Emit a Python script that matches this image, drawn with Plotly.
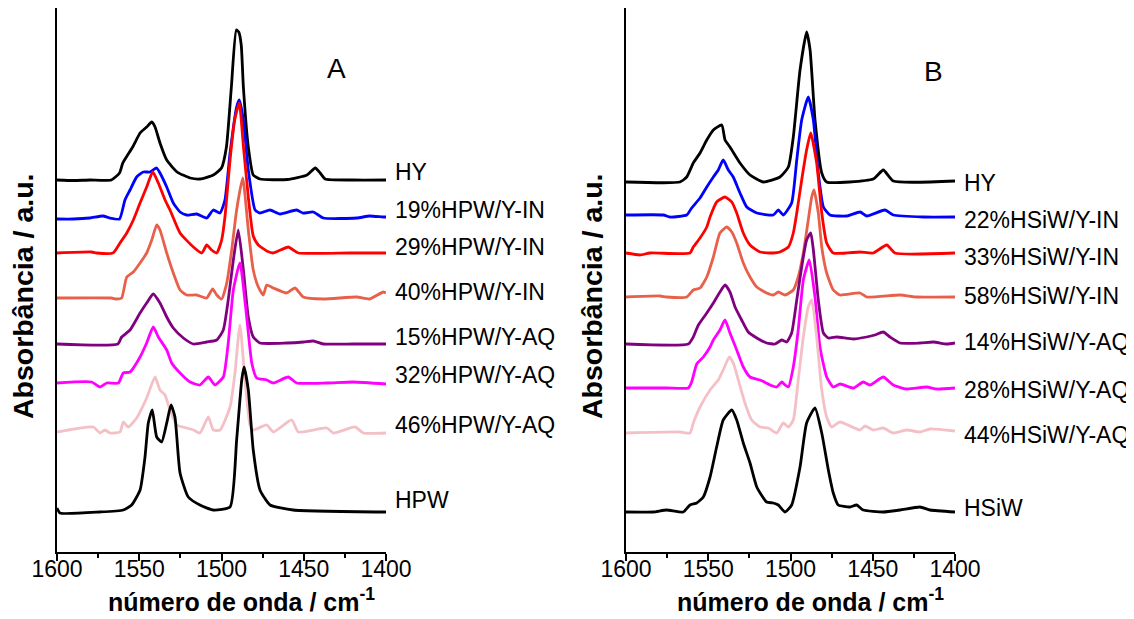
import plotly.graph_objects as go

# ---------------- Panel A (HPW series) ----------------
wn_hy_a = [1600, 1590, 1580, 1567, 1562, 1560, 1554, 1549.5, 1545.5, 1542.4, 1540.4, 1537.4, 1533.3, 1527, 1519, 1513, 1505, 1500, 1497, 1494, 1491, 1489.5, 1488, 1486.7, 1483.7, 1480.7, 1476.6, 1460, 1448, 1443, 1440, 1437, 1420, 1400]
ab_hy_a = [3.72, 3.715, 3.72, 3.72, 3.79, 3.89, 4.05, 4.19, 4.25, 4.30, 4.25, 4.09, 3.92, 3.80, 3.74, 3.73, 3.77, 3.84, 4.05, 4.65, 5.22, 5.20, 5.07, 4.65, 4.05, 3.77, 3.73, 3.725, 3.77, 3.84, 3.79, 3.73, 3.72, 3.72]

wn_19 = [1600, 1590, 1580, 1572, 1568, 1562, 1558.7, 1555.6, 1551.6, 1547.5, 1543.5, 1539.4, 1537.4, 1533.3, 1529.3, 1525.2, 1521.2, 1515.1, 1509, 1505, 1500.9, 1497.9, 1494.8, 1490.8, 1489.2, 1486.7, 1483.7, 1479.6, 1476.6, 1470.5, 1464.4, 1454.3, 1450.5, 1444.2, 1438.1, 1417.8, 1410, 1401.8, 1400]
ab_19 = [3.33, 3.33, 3.34, 3.36, 3.34, 3.33, 3.52, 3.62, 3.75, 3.80, 3.80, 3.84, 3.79, 3.65, 3.49, 3.40, 3.37, 3.38, 3.34, 3.42, 3.39, 3.52, 3.99, 4.45, 4.52, 4.32, 3.82, 3.42, 3.39, 3.42, 3.38, 3.42, 3.39, 3.40, 3.34, 3.34, 3.36, 3.35, 3.35]

wn_29 = [1600, 1578.9, 1575.9, 1566, 1561.7, 1557.6, 1553.6, 1549.5, 1545.5, 1541.8, 1538.4, 1534.3, 1531.3, 1525.2, 1517.1, 1512, 1509, 1506, 1502.9, 1499.9, 1497.9, 1494.8, 1492, 1489.2, 1486.7, 1483.7, 1480.7, 1477.6, 1472.5, 1468.5, 1459.4, 1456.4, 1453.3, 1421.9, 1400]
ab_29 = [2.99, 3.00, 2.99, 2.99, 3.09, 3.19, 3.32, 3.49, 3.65, 3.80, 3.69, 3.52, 3.42, 3.19, 3.05, 2.99, 3.07, 3.02, 2.99, 3.12, 3.35, 3.92, 4.32, 4.49, 4.06, 3.55, 3.16, 3.07, 3.01, 2.99, 3.05, 3.02, 2.99, 2.99, 2.99]

wn_40 = [1600, 1567, 1563.7, 1560.7, 1557.6, 1553.6, 1549.5, 1545.5, 1542.4, 1539.4, 1537.4, 1533.3, 1529.3, 1525.2, 1521.2, 1515.1, 1509, 1505.4, 1502.9, 1499.9, 1496.8, 1493.8, 1490.8, 1487.1, 1483.7, 1480.7, 1477.6, 1474.6, 1472.5, 1468.5, 1460.4, 1455.3, 1450.3, 1438.1, 1417.8, 1410, 1401.6, 1400]
ab_40 = [2.54, 2.54, 2.53, 2.54, 2.75, 2.80, 2.89, 2.99, 3.12, 3.27, 3.22, 2.99, 2.79, 2.62, 2.57, 2.57, 2.54, 2.63, 2.57, 2.53, 2.69, 3.02, 3.42, 3.74, 3.22, 2.82, 2.65, 2.57, 2.67, 2.64, 2.59, 2.64, 2.55, 2.53, 2.55, 2.53, 2.60, 2.59]

wn_15 = [1600, 1563, 1560.7, 1555.6, 1549.5, 1545.5, 1541.5, 1537.4, 1533.3, 1529.3, 1523.2, 1517.1, 1509, 1502.9, 1498.9, 1495.9, 1492.8, 1489.8, 1486.7, 1483.7, 1480.7, 1476.6, 1460.4, 1450, 1444.2, 1438.1, 1420, 1400]
ab_15 = [2.08, 2.08, 2.15, 2.22, 2.39, 2.49, 2.58, 2.49, 2.35, 2.24, 2.14, 2.08, 2.10, 2.12, 2.22, 2.52, 2.92, 3.22, 2.82, 2.35, 2.15, 2.09, 2.09, 2.10, 2.11, 2.08, 2.08, 2.08]

wn_32 = [1600, 1578.9, 1573.9, 1569.8, 1562.7, 1559.7, 1555.6, 1549.5, 1545.5, 1541.5, 1538.4, 1533.3, 1530.3, 1525.2, 1519.1, 1513.1, 1508, 1504, 1498.9, 1495.9, 1492.8, 1488.8, 1484.7, 1481.6, 1478.6, 1472.5, 1468.5, 1459.4, 1454.3, 1436, 1419.9, 1400]
ab_32 = [1.69, 1.70, 1.65, 1.69, 1.69, 1.79, 1.80, 1.95, 2.09, 2.25, 2.15, 2.02, 1.89, 1.79, 1.70, 1.67, 1.75, 1.67, 1.75, 2.09, 2.62, 2.89, 2.35, 1.89, 1.74, 1.72, 1.69, 1.75, 1.69, 1.69, 1.70, 1.68]

wn_46 = [1600, 1577.9, 1573.9, 1570.8, 1567.8, 1561.7, 1559.7, 1556.7, 1551.6, 1545.5, 1540.4, 1537.4, 1534.3, 1532.3, 1527.2, 1521.2, 1517.1, 1513.1, 1508, 1505, 1500.9, 1494.8, 1491.8, 1488.8, 1485.7, 1482.7, 1480.7, 1472.5, 1468.5, 1457.3, 1453.3, 1436, 1432, 1418.8, 1413.8, 1400]
ab_46 = [1.20, 1.25, 1.19, 1.22, 1.19, 1.20, 1.30, 1.25, 1.34, 1.54, 1.75, 1.62, 1.57, 1.47, 1.27, 1.24, 1.22, 1.19, 1.35, 1.22, 1.22, 1.45, 1.79, 2.27, 1.72, 1.27, 1.22, 1.27, 1.20, 1.32, 1.20, 1.24, 1.19, 1.25, 1.19, 1.19]

wn_hpw = [1600, 1598.2, 1573.9, 1559.7, 1554.6, 1549.5, 1546.5, 1544.5, 1542.1, 1539.4, 1536.4, 1533.3, 1530.7, 1528.3, 1525.2, 1520.2, 1513.1, 1505, 1494.8, 1490.8, 1487.7, 1486.3, 1483.7, 1480.7, 1476.6, 1470.5, 1456.4, 1400]
ab_hpw = [0.44, 0.39, 0.40, 0.42, 0.47, 0.62, 0.95, 1.29, 1.42, 1.15, 1.10, 1.29, 1.47, 1.35, 0.79, 0.55, 0.47, 0.42, 0.45, 1.12, 1.72, 1.85, 1.62, 1.02, 0.62, 0.47, 0.42, 0.40]

# ---------------- Panel B (HSiW series) ----------------
wn_hy_b = [1600, 1567.2, 1563.1, 1559.1, 1555, 1550.9, 1546.9, 1541.8, 1539.8, 1536.8, 1530.7, 1524.6, 1516.5, 1506.4, 1501.3, 1498.3, 1494.2, 1490.2, 1488.1, 1485.1, 1481, 1478, 1449.7, 1443.6, 1437.5, 1400]
ab_hy_b = [3.70, 3.70, 3.75, 3.89, 3.99, 4.12, 4.22, 4.27, 4.12, 4.05, 3.89, 3.77, 3.70, 3.75, 3.85, 4.15, 4.82, 5.20, 5.02, 4.32, 3.79, 3.70, 3.73, 3.82, 3.71, 3.71]

wn_22 = [1600, 1577.3, 1573.3, 1563.1, 1560.1, 1555, 1550.9, 1546.9, 1543.9, 1540.9, 1537.8, 1534.8, 1530.7, 1526.6, 1520.5, 1510.5, 1507.4, 1504.4, 1499.3, 1496.2, 1493.2, 1489.2, 1486.1, 1483.1, 1480, 1476, 1465.8, 1457.7, 1453.7, 1442.6, 1437.5, 1419.3, 1400]
ab_22 = [3.37, 3.37, 3.35, 3.37, 3.44, 3.54, 3.65, 3.75, 3.82, 3.92, 3.82, 3.75, 3.59, 3.45, 3.39, 3.37, 3.42, 3.37, 3.49, 3.92, 4.32, 4.55, 4.32, 3.79, 3.45, 3.37, 3.36, 3.40, 3.36, 3.42, 3.37, 3.35, 3.35]

wn_33 = [1600, 1591.5, 1585.4, 1561.1, 1559.1, 1555, 1550.9, 1548.9, 1544.9, 1539.8, 1535.7, 1532.7, 1528.7, 1524.6, 1518.5, 1510.5, 1506.4, 1501.3, 1498.3, 1496.2, 1493.2, 1490.2, 1487.7, 1484.1, 1481, 1478, 1474, 1457.7, 1449.7, 1441.5, 1436.5, 1400]
ab_33 = [2.99, 2.97, 2.99, 2.99, 3.05, 3.14, 3.25, 3.35, 3.50, 3.55, 3.50, 3.39, 3.19, 3.07, 3.00, 2.99, 3.00, 3.05, 3.19, 3.39, 3.72, 4.02, 4.19, 3.89, 3.39, 3.09, 2.99, 3.00, 2.99, 3.07, 2.99, 2.99]

wn_58 = [1600, 1579.3, 1575.3, 1563.1, 1559.1, 1555, 1550.9, 1546.9, 1542.9, 1538.8, 1535.7, 1532.7, 1528.7, 1524.6, 1520.5, 1514.5, 1510.5, 1507.4, 1503.3, 1498.3, 1495.3, 1492.2, 1489.2, 1487.1, 1485.7, 1483.1, 1481, 1478, 1474, 1469.9, 1457.7, 1453.7, 1433.4, 1423.3, 1400]
ab_58 = [2.55, 2.56, 2.55, 2.55, 2.62, 2.64, 2.75, 2.95, 3.19, 3.25, 3.20, 3.09, 2.89, 2.75, 2.65, 2.59, 2.57, 2.60, 2.57, 2.62, 2.75, 2.99, 3.32, 3.55, 3.62, 3.39, 3.05, 2.79, 2.62, 2.57, 2.59, 2.55, 2.57, 2.55, 2.55]

wn_14 = [1600, 1562.1, 1559.1, 1556, 1550.9, 1546.9, 1542.9, 1539.8, 1536.8, 1533.7, 1529.7, 1525.7, 1520.5, 1514.5, 1509.4, 1505.3, 1502.3, 1499.3, 1496.2, 1493.2, 1490.2, 1487.7, 1486.1, 1483.1, 1480, 1477, 1471.9, 1461.8, 1453.7, 1448.7, 1443.6, 1439.5, 1433.4, 1421.3, 1413.2, 1405, 1400]
ab_14 = [2.08, 2.08, 2.15, 2.27, 2.39, 2.49, 2.60, 2.67, 2.60, 2.45, 2.32, 2.20, 2.14, 2.09, 2.08, 2.12, 2.10, 2.19, 2.52, 2.85, 3.12, 3.19, 3.02, 2.52, 2.19, 2.14, 2.15, 2.13, 2.15, 2.17, 2.20, 2.15, 2.09, 2.09, 2.10, 2.08, 2.09]

wn_28 = [1600, 1575.3, 1562.1, 1560.1, 1557, 1553, 1548.9, 1546.9, 1542.9, 1539.8, 1536.8, 1532.7, 1528.7, 1524.6, 1518.5, 1512.5, 1508.4, 1505.3, 1503.3, 1501.3, 1498.3, 1495.3, 1492.2, 1488.6, 1485.1, 1482.1, 1478, 1474, 1469.9, 1461.8, 1455.8, 1451.7, 1443.6, 1437.5, 1429.4, 1417.2, 1411.1, 1400]
ab_28 = [1.64, 1.64, 1.64, 1.70, 1.88, 1.95, 2.05, 2.12, 2.22, 2.32, 2.19, 2.02, 1.85, 1.75, 1.72, 1.67, 1.65, 1.70, 1.67, 1.65, 1.85, 2.22, 2.72, 2.92, 2.55, 2.05, 1.75, 1.65, 1.68, 1.64, 1.70, 1.67, 1.75, 1.67, 1.63, 1.65, 1.63, 1.64]

wn_44 = [1600, 1567.2, 1561.1, 1559.1, 1555, 1548.9, 1543.9, 1540.9, 1537.2, 1534.8, 1531.7, 1527.7, 1523.6, 1518.5, 1513.5, 1508.4, 1504.4, 1501.3, 1498.3, 1495.3, 1492.2, 1489.2, 1487.1, 1484.1, 1481, 1478, 1475, 1469.9, 1457.7, 1454.7, 1449.7, 1443.6, 1437.5, 1429.4, 1421.3, 1415.2, 1400]
ab_44 = [1.19, 1.20, 1.19, 1.29, 1.45, 1.62, 1.72, 1.82, 1.95, 1.89, 1.72, 1.49, 1.32, 1.25, 1.24, 1.19, 1.29, 1.25, 1.32, 1.72, 2.15, 2.45, 2.52, 2.15, 1.62, 1.35, 1.25, 1.30, 1.22, 1.26, 1.22, 1.24, 1.19, 1.22, 1.20, 1.23, 1.21]

wn_hsiw = [1600, 1583.4, 1575.3, 1565.2, 1561.1, 1557, 1553, 1548.9, 1544.9, 1540.9, 1535.7, 1532.7, 1528.7, 1524.6, 1520.5, 1514.5, 1510.5, 1507.4, 1503.3, 1499.3, 1494.2, 1490.2, 1485.1, 1481, 1477, 1474, 1471, 1463.8, 1459.8, 1455.8, 1443.6, 1433.4, 1421.3, 1415.2, 1400]
ab_hsiw = [0.40, 0.40, 0.42, 0.40, 0.47, 0.49, 0.55, 0.75, 1.05, 1.32, 1.42, 1.32, 1.09, 0.89, 0.65, 0.50, 0.49, 0.47, 0.40, 0.47, 0.85, 1.29, 1.44, 1.19, 0.82, 0.59, 0.47, 0.45, 0.47, 0.42, 0.40, 0.42, 0.45, 0.42, 0.40]

labels_a = ["HY", "19%HPW/Y-IN", "29%HPW/Y-IN", "40%HPW/Y-IN", "15%HPW/Y-AQ", "32%HPW/Y-AQ", "46%HPW/Y-AQ", "HPW"]
labels_b = ["HY", "22%HSiW/Y-IN", "33%HSiW/Y-IN", "58%HSiW/Y-IN", "14%HSiW/Y-AQ", "28%HSiW/Y-AQ", "44%HSiW/Y-AQ", "HSiW"]
label_y_a = [3.80, 3.42, 3.05, 2.60, 2.15, 1.77, 1.27, 0.52]
label_y_b = [3.69, 3.32, 2.95, 2.56, 2.10, 1.62, 1.17, 0.44]
colors = ["#000000", "#0000FF", "#FF0000", "#E8604A", "#800080", "#FF00FF", "#F4C0C6", "#000000"]

series_a = [(wn_hy_a, ab_hy_a), (wn_19, ab_19), (wn_29, ab_29), (wn_40, ab_40),
            (wn_15, ab_15), (wn_32, ab_32), (wn_46, ab_46), (wn_hpw, ab_hpw)]
series_b = [(wn_hy_b, ab_hy_b), (wn_22, ab_22), (wn_33, ab_33), (wn_58, ab_58),
            (wn_14, ab_14), (wn_28, ab_28), (wn_44, ab_44), (wn_hsiw, ab_hsiw)]

# The page body has an 8 px margin, so the figure is drawn 8 px smaller and
# every page position below is shifted by OFF.
OFF = 8
W, H = 1134 - OFF, 619 - OFF
PB = 552 - OFF          # figure row of the x-axis line
YTOP = 5.44             # absorbance value at the top of the plotting area
FONT = "Liberation Sans, Arial, sans-serif"

def px(xp):             # page x -> paper x
    return (xp - OFF) / W

def py(yp):             # page y -> paper y
    return (PB - (yp - OFF)) / PB

fig = go.Figure()
for (x, y), c in zip(series_a, colors):
    fig.add_trace(go.Scatter(x=x, y=y, mode="lines",
                             line=dict(color=c, width=2.8, shape="spline", smoothing=0.5),
                             xaxis="x", yaxis="y", showlegend=False, hoverinfo="skip"))
for (x, y), c in zip(series_b, colors):
    fig.add_trace(go.Scatter(x=x, y=y, mode="lines",
                             line=dict(color=c, width=2.8, shape="spline", smoothing=0.5),
                             xaxis="x2", yaxis="y2", showlegend=False, hoverinfo="skip"))

def xax(dom, anchor):
    return dict(domain=dom, anchor=anchor, range=[1600, 1400], autorange=False,
                automargin=False,
                tickmode="array", tickvals=[1600, 1550, 1500, 1450, 1400],
                ticks="outside", ticklen=7, tickwidth=1.5, tickcolor="black",
                ticklabelstandoff=-11,
                minor=dict(tickmode="array", tickvals=[1575, 1525, 1475, 1425],
                           ticks="outside", ticklen=4, tickwidth=1.5, tickcolor="black",
                           showgrid=False),
                showline=True, linecolor="black", linewidth=1.5,
                showgrid=False, zeroline=False,
                tickfont=dict(family=FONT, size=23, color="black"))

def yax(anchor):
    return dict(domain=[0, 1], anchor=anchor, range=[0, YTOP], autorange=False,
                automargin=False,
                showline=True, linecolor="black", linewidth=1.5,
                showticklabels=False, ticks="", showgrid=False, zeroline=False)

ann = []
for t, yv in zip(labels_a, label_y_a):
    ann.append(dict(text=t, x=px(393), xref="paper", y=yv, yref="y", xanchor="left",
                    yanchor="middle", showarrow=False,
                    font=dict(family=FONT, size=23, color="black")))
for t, yv in zip(labels_b, label_y_b):
    ann.append(dict(text=t, x=px(962), xref="paper", y=yv, yref="y2", xanchor="left",
                    yanchor="middle", showarrow=False,
                    font=dict(family=FONT, size=23, color="black")))

for cx in (241.5, 810.5):
    ann.append(dict(text="<b>número de onda / cm<sup>-1</sup></b>", x=px(cx), xref="paper",
                    y=py(600), yref="paper", xanchor="center", yanchor="middle",
                    showarrow=False, font=dict(family=FONT, size=25, color="black")))
for cx in (23, 592):
    ann.append(dict(text="<b>Absorbância / a.u.</b>", x=px(cx), xref="paper",
                    y=py(297), yref="paper", xanchor="center", yanchor="middle",
                    textangle=-90, showarrow=False,
                    font=dict(family=FONT, size=28.5, color="black")))

ann.append(dict(text="A", x=px(336), xref="paper", y=py(68), yref="paper",
                xanchor="center", yanchor="middle", showarrow=False,
                font=dict(family=FONT, size=28, color="black")))
ann.append(dict(text="B", x=px(933), xref="paper", y=py(71), yref="paper",
                xanchor="center", yanchor="middle", showarrow=False,
                font=dict(family=FONT, size=28, color="black")))

fig.update_layout(
    width=W, height=H,
    margin=dict(l=0, r=0, t=0, b=H - PB, pad=0, autoexpand=False),
    paper_bgcolor="white", plot_bgcolor="white",
    xaxis=xax([px(57), px(386)], "y"),
    yaxis=yax("x"),
    xaxis2=xax([px(626), px(955)], "y2"),
    yaxis2=yax("x2"),
    annotations=ann,
    font=dict(family=FONT, color="black"),
)

fig.write_html("out.html")
